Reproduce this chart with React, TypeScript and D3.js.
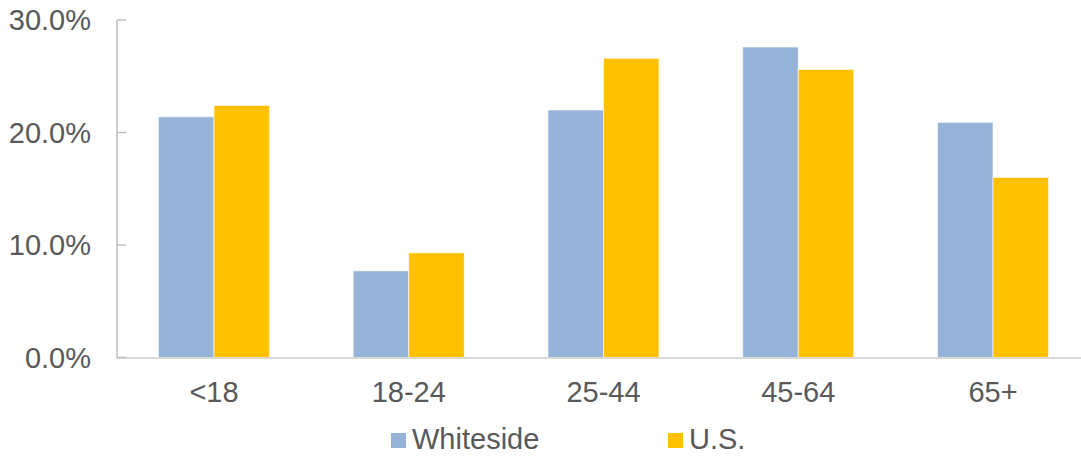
import React from "react";
import * as d3 from "d3";

const categories = ["<18", "18-24", "25-44", "45-64", "65+"];
const seriesNames = ["Whiteside", "U.S."];
const whiteside = [0.214, 0.077, 0.22, 0.276, 0.209];
const us = [0.224, 0.093, 0.266, 0.256, 0.16];
const yTicks = [0, 0.1, 0.2, 0.3];
const colors = ["#95B3D7", "#FFC000"];

const W = 1081;
const H = 459;

export default function App() {
  const y = d3.scaleLinear().domain([0, 0.3]).range([357.5, 20]);
  const x0 = d3
    .scaleBand<string>()
    .domain(categories)
    .range([116.6, 1090.4])
    .paddingInner(0.43)
    .paddingOuter(0.215);
  const x1 = d3
    .scaleBand<string>()
    .domain(seriesNames)
    .range([0, x0.bandwidth()]);
  const values = [whiteside, us];
  const fmt = d3.format(".1%");
  const font = "'Liberation Sans', Arial, sans-serif";
  const textColor = "#595959";
  const axisX = 117;
  const fs = 29;

  return (
    <svg
      width={W}
      height={H}
      style={{ position: "absolute", left: 0, top: 0, background: "#fff" }}
      fontFamily={font}
    >
      {categories.map((c, i) =>
        seriesNames.map((s, j) => (
          <rect
            key={c + s}
            x={(x0(c) ?? 0) + (x1(s) ?? 0)}
            y={y(values[j][i])}
            width={x1.bandwidth()}
            height={y(0) - y(values[j][i])}
            fill={colors[j]}
            stroke="#ffffff"
            strokeOpacity={0.6}
            strokeWidth={1}
          />
        ))
      )}
      <line
        x1={axisX}
        x2={W}
        y1={y(0) + 0.5}
        y2={y(0) + 0.5}
        stroke="#d9d9d9"
        strokeWidth={2}
      />
      <line x1={axisX} x2={axisX} y1={y(0.3)} y2={y(0) + 1} stroke="#bfbfbf" strokeWidth={1.5} />
      {yTicks.map((t) => (
        <g key={t}>
          <line x1={axisX} x2={axisX + 9} y1={y(t)} y2={y(t)} stroke="#bfbfbf" strokeWidth={1.5} />
          <text
            x={91}
            y={y(t)}
            dy="0.36em"
            textAnchor="end"
            fontSize={fs}
            fill={textColor}
          >
            {fmt(t)}
          </text>
        </g>
      ))}
      {categories.map((c) => (
        <text
          key={c}
          x={(x0(c) ?? 0) + x0.bandwidth() / 2}
          y={402}
          textAnchor="middle"
          fontSize={fs}
          fill={textColor}
        >
          {c}
        </text>
      ))}
      {seriesNames.map((s, j) => {
        const lx = j === 0 ? 391 : 668;
        return (
          <g key={s}>
            <rect x={lx} y={433} width={15} height={15} fill={colors[j]} />
            <text x={lx + 21} y={449} fontSize={fs} fill={textColor}>
              {s}
            </text>
          </g>
        );
      })}
    </svg>
  );
}
